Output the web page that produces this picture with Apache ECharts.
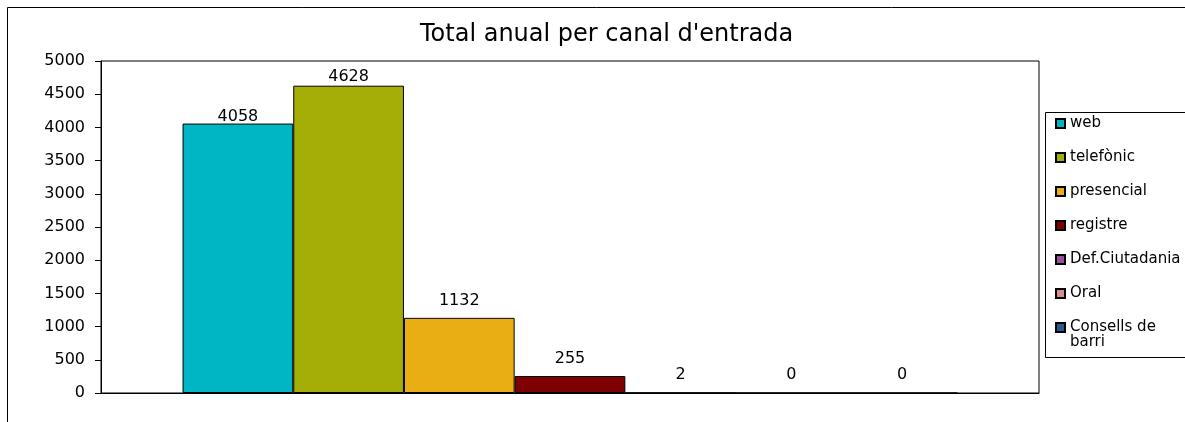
<!DOCTYPE html>
<html>
<head>
<meta charset="utf-8">
<script src="https://cdn.jsdelivr.net/npm/echarts@6/dist/echarts.min.js"></script>
<style>
  html, body { margin: 0; padding: 0; background: #fff; }
  #chart { width: 1185px; height: 422px; }
</style>
</head>
<body>
<div id="chart"></div>
<script>
// ---- data ----
const titleText = "Total anual per canal d'entrada";
const categories = ['Total'];
const seriesNames = ['web', 'telefònic', 'presencial', 'registre', 'Def.Ciutadania', 'Oral', 'Consells de barri'];
const seriesValues = [4058, 4628, 1132, 255, 2, 0, 0];
const yMin = 0, yMax = 5000, yInterval = 500;

// ---- styles ----
const seriesColors = ['#00B6C4', '#A4AE07', '#E9AE14', '#7F0000', '#9A4F9A', '#D98C90', '#255A8C'];
const labelDistances = [-1, 1, 9, 9, 10, 10, 10];
const FONT = 'DejaVu Sans';

const chart = echarts.init(document.getElementById('chart'), null, { renderer: 'canvas' });

const series = seriesNames.map((name, i) => ({
  name: name,
  type: 'bar',
  data: [seriesValues[i]],
  barWidth: 110.7,
  barGap: '0%',
  itemStyle: { color: seriesColors[i], borderColor: '#000', borderWidth: 1 },
  label: {
    show: true,
    position: 'top',
    distance: labelDistances[i],
    color: '#000',
    fontFamily: FONT,
    fontSize: 16
  },
  emphasis: { disabled: true },
  animation: false
}));

chart.setOption({
  animation: false,
  backgroundColor: '#fff',
  title: {
    text: titleText,
    left: 420,
    top: 23,
    padding: 0,
    textStyle: { fontFamily: FONT, fontSize: 24, fontWeight: 'normal', color: '#000' }
  },
  grid: {
    left: 101, top: 61, right: 146, bottom: 29,
    show: true, borderColor: '#000', borderWidth: 1, backgroundColor: '#fff'
  },
  legend: {
    orient: 'vertical',
    left: 1055,
    top: 116,
    padding: 0,
    itemGap: 19,
    itemWidth: 9,
    itemHeight: 9,
    icon: 'rect',
    selectedMode: false,
    data: seriesNames,
    formatter: function (name) {
      if (name === 'Consells de barri') return '{a|Consells de}\n{b|barri}';
      return name;
    },
    textStyle: {
      fontFamily: FONT, fontSize: 15, color: '#000', lineHeight: 15,
      rich: {
        a: { fontFamily: FONT, fontSize: 15, color: '#000', lineHeight: 15 },
        b: { fontFamily: FONT, fontSize: 15, color: '#000', lineHeight: 0, verticalAlign: 'top' }
      }
    }
  },
  graphic: [
    { type: 'rect', silent: true, z: -1, shape: { x: 7.5, y: 7.5, width: 1300, height: 500 },
      style: { fill: 'none', stroke: '#000', lineWidth: 1 } },
    { type: 'rect', silent: true, z: -1, shape: { x: 1045.5, y: 112.5, width: 300, height: 245 },
      style: { fill: '#fff', stroke: '#000', lineWidth: 1 } }
  ],
  xAxis: {
    type: 'category',
    data: categories,
    axisLine: { show: true, lineStyle: { color: '#000', width: 1 } },
    axisTick: { show: false },
    axisLabel: { show: false },
    splitLine: { show: false }
  },
  yAxis: {
    type: 'value',
    min: yMin, max: yMax, interval: yInterval,
    axisLine: { show: true, lineStyle: { color: '#000', width: 1 } },
    axisTick: { show: true, inside: false, length: 6, lineStyle: { color: '#000' } },
    axisLabel: {
      color: '#000', fontFamily: FONT, fontSize: 16, margin: 16,
      formatter: function (v) { return String(v); }
    },
    splitLine: { show: false }
  },
  series: series
});
</script>
</body>
</html>
